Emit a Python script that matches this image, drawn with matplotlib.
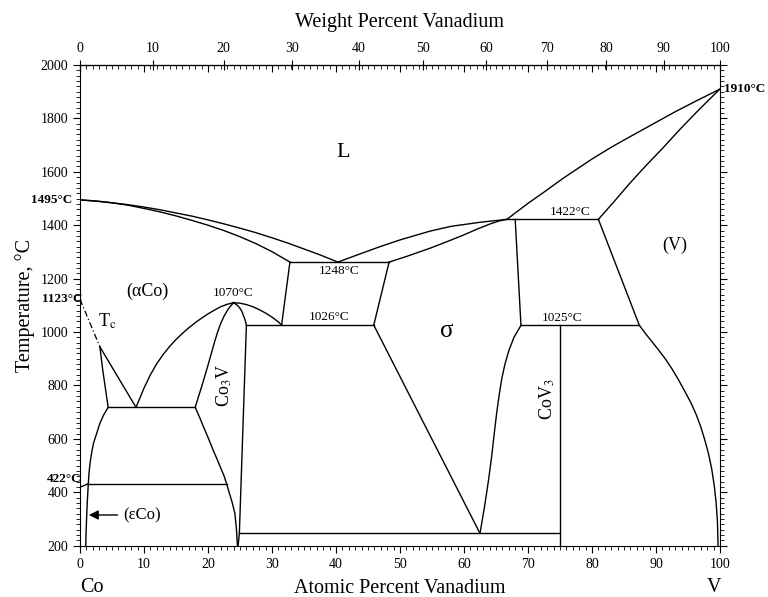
import numpy as np
import matplotlib
matplotlib.use('Agg')
import matplotlib.pyplot as plt
from matplotlib.ticker import MultipleLocator, NullFormatter

plt.rcParams['font.family'] = ['Liberation Serif', 'DejaVu Serif']
plt.rcParams['mathtext.fontset'] = 'stix'

# ----- phase boundaries (atomic % V, temperature in C)
liq_co_at = [0, 2.5, 5, 7.5, 10, 12.5, 15, 17.5, 20, 22.5, 25, 27.5, 30, 32.5, 35, 37.5, 40.3]
liq_co_t = [1495, 1490, 1484, 1477, 1468, 1458, 1446, 1434, 1420, 1405, 1389, 1372, 1353,
            1333, 1311, 1289, 1262]
sol_co_at = [0, 2.5, 5, 7.5, 10, 12.5, 15, 17.5, 20, 22.5, 25, 27.5, 30, 32.8]
sol_co_t = [1495, 1491, 1484, 1475, 1463, 1450, 1435, 1418, 1400, 1380, 1357, 1331, 1301, 1262]

liq_sig_at = [40.3, 43, 46.9, 50, 54.7, 58, 62.5, 66.7]
liq_sig_t = [1262, 1286, 1320, 1345, 1378, 1396, 1411, 1422]
sol_sig_at = [48.3, 51, 54.7, 57.5, 59.9, 62, 64.1, 65.5, 66.7]
sol_sig_t = [1262, 1283, 1314, 1340, 1363, 1385, 1405, 1416, 1422]

liq_v_at = [66.7, 70, 72.5, 75.5, 78, 80, 83, 85.9, 89, 93, 96.5, 100]
liq_v_t = [1422, 1482, 1524, 1576, 1616, 1648, 1692, 1731, 1772, 1825, 1868, 1910]
sol_v_at = [81.0, 83.5, 85.9, 88.5, 91.1, 93.7, 96.4, 98.2, 100]
sol_v_t = [1422, 1490, 1557, 1625, 1690, 1758, 1825, 1868, 1910]

v_solvus_at = [87.4, 88.5, 89.5, 90.5, 91.5, 92.5, 93.5, 94.5, 95.5, 96.3, 97.0, 97.6, 98.2,
               98.7, 99.1, 99.4, 99.6, 99.7]
v_solvus_t = [1025, 990, 960, 930, 898, 862, 822, 778, 733, 690, 645, 598, 545, 488, 425,
              360, 290, 200]

sig_low_right_at = [62.5, 63.2, 63.8, 64.3, 64.7, 65.1, 65.5, 65.9, 66.4, 67.0, 67.8, 68.9]
sig_low_right_t = [246, 345, 440, 530, 615, 696, 765, 825, 880, 930, 980, 1025]

dome_left_at = [8.75, 10, 11, 12, 13, 14, 15, 16, 17, 18, 19, 20, 21, 22, 23, 24]
dome_left_t = [718, 790, 840, 882, 916, 946, 972, 995, 1016, 1035, 1052, 1068, 1082, 1095,
               1104, 1110]
dome_right_at = [24, 25, 26, 27, 28, 29, 30, 31, 31.5]
dome_right_t = [1110, 1108, 1103, 1095, 1084, 1071, 1056, 1038, 1026]

co3v_left_at = [24.0, 23.5, 23.0, 22.5, 22.0, 21.5, 21.0, 20.5, 20.0, 19.5, 19.0, 18.5, 18.0,
                18.7, 19.3, 20.1, 20.8, 21.4, 21.9, 22.5, 22.9, 23.3, 23.8, 24.2, 24.45, 24.6]
co3v_left_t = [1110, 1097, 1080, 1059, 1033, 1000, 961, 918, 876, 835, 795, 757, 718,
               680, 645, 600, 558, 525, 496, 462, 432, 400, 360, 321, 260, 200]
co3v_right_at = [24.0, 24.6, 25.0, 25.3, 25.5, 25.8, 26.0, 24.9, 24.7]
co3v_right_t = [1110, 1100, 1089, 1077, 1064, 1045, 1026, 246, 200]

alpha_low_at = [4.4, 3.7, 3.1, 2.6, 2.1, 1.8, 1.56, 1.4, 1.3, 1.15, 1.04, 0.95, 0.9]
alpha_low_t = [718, 690, 658, 620, 583, 545, 508, 470, 432, 370, 308, 250, 200]
alpha_up_at = [4.4, 3.6, 3.1]
alpha_up_t = [718, 850, 945]
tc_edge_at = [3.1, 8.75]
tc_edge_t = [945, 718]
tc_at = [0, 3.1]
tc_t = [1123, 945]

# straight segments: (at1, at2, t1, t2)
segments = [
    (32.8, 48.3, 1262, 1262),   # 1248 eutectic
    (32.8, 31.5, 1262, 1026),
    (48.3, 45.9, 1262, 1026),
    (26.0, 45.9, 1026, 1026),   # 1026 line
    (66.7, 81.0, 1422, 1422),   # 1422 peritectic
    (68.0, 68.9, 1422, 1025),
    (81.0, 87.4, 1422, 1025),
    (68.9, 87.4, 1025, 1025),   # 1025 line
    (75.0, 75.0, 1025, 200),    # CoV3
    (45.9, 62.5, 1026, 246),
    (24.9, 75.0, 246, 246),
    (4.4, 18.0, 718, 718),
    (1.3, 22.9, 432, 432),
    (0, 1.3, 419, 432),
]

# labels: (text, at, t, size, rotation)
region_labels = [
    ('L', 41.1, 1674, 16, 0),
    ('(αCo)', 10.5, 1153, 13, 0),
    ('1070°C', 24.0, 1146, 9.5, 0),
    (r'T$_\mathrm{c}$', 4.2, 1040, 13, 0),
    (r'Co$_3$V', 22.6, 800, 13, 90),
    ('1248°C', 40.5, 1228, 9.5, 0),
    ('1026°C', 39.0, 1056, 9.5, 0),
    ('σ', 57.3, 1005, 18, 0),
    ('1422°C', 76.6, 1448, 9.5, 0),
    ('(V)', 93.0, 1326, 13, 0),
    ('1025°C', 75.3, 1052, 9.5, 0),
    (r'CoV$_3$', 73.0, 750, 13, 90),
]
# bold temperatures on the left frame: (text, at of right edge, t)
left_marks = [('1495°C', -1.2, 1495), ('1123°C', 0.4, 1123), ('422°C', 0.3, 448)]
wt_ticks = list(range(0, 101, 10))

M_V, M_CO = 50.94, 58.93


def at_to_wt(a):
    a = np.asarray(a, float)
    return 100 * a * M_V / (a * M_V + (100 - a) * M_CO)


def wt_to_at(w):
    w = np.asarray(w, float)
    return 100 * (w / M_V) / (w / M_V + (100 - w) / M_CO)


fig = plt.figure(figsize=(7.68, 5.97), dpi=100)
ax = fig.add_axes([80 / 768, 51.3 / 597, 640 / 768, 480.7 / 597])

lw = 1.0
curves = [(liq_co_at, liq_co_t), (sol_co_at, sol_co_t), (liq_sig_at, liq_sig_t),
          (sol_sig_at, sol_sig_t), (liq_v_at, liq_v_t), (sol_v_at, sol_v_t),
          (v_solvus_at, v_solvus_t), (sig_low_right_at, sig_low_right_t),
          (dome_left_at, dome_left_t), (dome_right_at, dome_right_t),
          (co3v_left_at, co3v_left_t), (co3v_right_at, co3v_right_t),
          (alpha_low_at, alpha_low_t), (alpha_up_at, alpha_up_t), (tc_edge_at, tc_edge_t)]
for xs, ts in curves:
    ax.plot(xs, ts, color='black', lw=lw, solid_joinstyle='round')
for x1, x2, t1, t2 in segments:
    ax.plot([x1, x2], [t1, t2], color='black', lw=lw)
ax.plot(tc_at, tc_t, color='black', lw=0.9, linestyle=(0, (5, 2, 1, 2)))

for txt, x, t, size, rot in region_labels:
    ax.text(x, t, txt, fontsize=size, rotation=rot, ha='center', va='center')

for txt, x, t in left_marks:
    ax.text(x, t, txt, fontsize=9.5, fontweight='bold', ha='right', va='center')
ax.text(100.6, 1910, '1910°C', fontsize=9.5, fontweight='bold', ha='left', va='center')

# (eCo) arrow
ax.annotate('', xy=(0.95, 315), xytext=(6.3, 315),
            arrowprops=dict(arrowstyle='-|>', color='black', lw=1, mutation_scale=14))
ax.text(6.8, 315, '(εCo)', fontsize=12, ha='left', va='center')

ax.set_xlim(0, 100)
ax.set_ylim(200, 2000)
ax.xaxis.set_major_locator(MultipleLocator(10))
ax.xaxis.set_minor_locator(MultipleLocator(1))
ax.yaxis.set_major_locator(MultipleLocator(200))
ax.yaxis.set_minor_locator(MultipleLocator(20))
ax.tick_params(axis='x', which='major', direction='out', length=5, labelsize=10, top=False)
ax.tick_params(axis='x', which='minor', direction='out', length=3, top=False)
ax.tick_params(axis='y', which='major', direction='out', length=5, labelsize=10, right=True)
ax.tick_params(axis='y', which='minor', direction='out', length=3, right=True)

ax.set_xlabel('Atomic Percent Vanadium', fontsize=14.5, labelpad=6)
ax.set_ylabel('Temperature, °C', fontsize=14.5, labelpad=4)
fig.text(92 / 768, 1 - 587 / 597, 'Co', fontsize=14.5, ha='center', va='center')
fig.text(714 / 768, 1 - 587 / 597, 'V', fontsize=14.5, ha='center', va='center')

# atomic % ticks on the top frame, pointing inward
top_at = ax.secondary_xaxis('top')
top_at.set_xticks(list(range(0, 101, 10)))
top_at.xaxis.set_minor_locator(MultipleLocator(1))
top_at.xaxis.set_major_formatter(NullFormatter())
top_at.tick_params(axis='x', which='major', direction='in', length=5)
top_at.tick_params(axis='x', which='minor', direction='in', length=3)

# weight % scale on top
secax = ax.secondary_xaxis('top', functions=(at_to_wt, wt_to_at))
secax.set_xticks(wt_ticks)
secax.tick_params(axis='x', which='major', direction='inout', length=7, labelsize=10)
secax.set_xlabel('Weight Percent Vanadium', fontsize=14.5, labelpad=11)

fig.savefig('out.png', dpi=100)
